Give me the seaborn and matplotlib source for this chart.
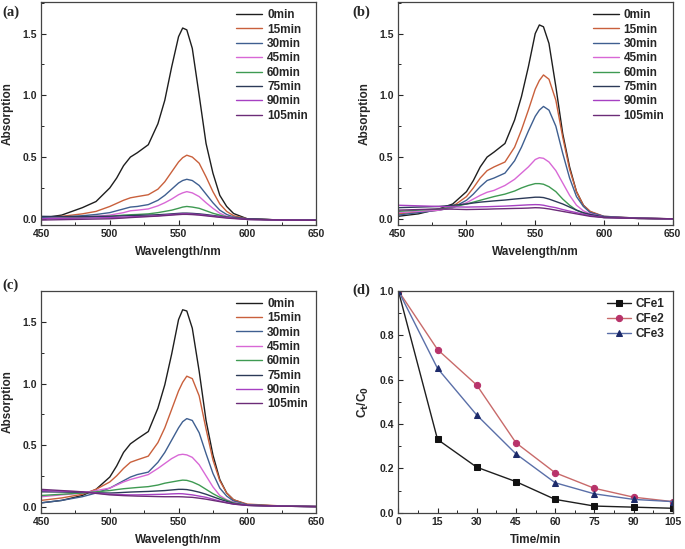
import numpy as np
import pandas as pd
import matplotlib
matplotlib.use("Agg")
import matplotlib.pyplot as plt
from matplotlib.ticker import MultipleLocator
import seaborn as sns

# ---------------- data ----------------
wavelength = [450, 465, 480, 490, 500, 505, 510, 515, 520, 528, 535, 540, 545,
              550, 553, 556, 560, 565, 570, 575, 580, 585, 590, 600, 625, 650]
times = ["0min", "15min", "30min", "45min", "60min", "75min", "90min", "105min"]

a_0 = [0.005, 0.03, 0.09, 0.14, 0.25, 0.33, 0.43, 0.50, 0.535, 0.60, 0.77, 0.96, 1.23,
       1.475, 1.545, 1.53, 1.38, 1.00, 0.61, 0.37, 0.19, 0.10, 0.043, 0.0, -0.01, -0.01]
a_15 = [0.01, 0.02, 0.04, 0.06, 0.10, 0.125, 0.15, 0.17, 0.18, 0.195, 0.24, 0.30, 0.38,
        0.46, 0.495, 0.515, 0.50, 0.45, 0.34, 0.22, 0.12, 0.06, 0.025, 0.0, -0.01, -0.01]
a_30 = [0.01, 0.015, 0.025, 0.035, 0.05, 0.065, 0.08, 0.095, 0.10, 0.115, 0.15, 0.19, 0.24,
        0.29, 0.31, 0.32, 0.31, 0.27, 0.20, 0.13, 0.07, 0.035, 0.015, 0.0, -0.01, -0.01]
a_45 = [0.0, 0.01, 0.015, 0.02, 0.03, 0.04, 0.05, 0.065, 0.07, 0.08, 0.105, 0.13, 0.16,
        0.195, 0.21, 0.22, 0.21, 0.18, 0.13, 0.085, 0.045, 0.02, 0.01, -0.005, -0.01, -0.01]
a_60 = [0.0, 0.005, 0.01, 0.015, 0.02, 0.025, 0.03, 0.033, 0.035, 0.04, 0.05, 0.06, 0.07,
        0.085, 0.095, 0.10, 0.095, 0.085, 0.065, 0.045, 0.03, 0.015, 0.01, -0.005, -0.01, -0.01]
a_75 = [0.02, 0.018, 0.018, 0.02, 0.02, 0.022, 0.024, 0.026, 0.028, 0.03, 0.033, 0.036, 0.04,
        0.044, 0.046, 0.046, 0.044, 0.04, 0.034, 0.027, 0.02, 0.013, 0.008, 0.0, -0.01, -0.01]
a_90 = [0.0, 0.003, 0.006, 0.008, 0.01, 0.012, 0.014, 0.016, 0.018, 0.02, 0.025, 0.03, 0.034,
        0.038, 0.04, 0.04, 0.038, 0.034, 0.028, 0.022, 0.015, 0.01, 0.005, -0.005, -0.01, -0.012]
a_105 = [-0.01, -0.007, -0.004, -0.002, 0.0, 0.003, 0.006, 0.01, 0.013, 0.018, 0.022, 0.026, 0.03,
         0.034, 0.036, 0.036, 0.034, 0.03, 0.024, 0.018, 0.012, 0.006, 0.002, -0.005, -0.01, -0.012]

b_0 = [0.02, 0.04, 0.08, 0.12, 0.22, 0.31, 0.42, 0.50, 0.54, 0.61, 0.80, 0.99, 1.23,
       1.50, 1.57, 1.555, 1.42, 1.07, 0.69, 0.42, 0.22, 0.11, 0.057, 0.016, 0.003, 0.0]
b_15 = [0.04, 0.055, 0.07, 0.10, 0.18, 0.25, 0.33, 0.39, 0.42, 0.46, 0.58, 0.72, 0.88,
        1.05, 1.12, 1.165, 1.13, 0.96, 0.66, 0.40, 0.22, 0.11, 0.06, 0.02, 0.005, 0.0]
b_30 = [0.03, 0.05, 0.07, 0.09, 0.15, 0.20, 0.26, 0.31, 0.33, 0.37, 0.47, 0.58, 0.71,
        0.83, 0.88, 0.91, 0.88, 0.75, 0.53, 0.33, 0.18, 0.10, 0.05, 0.02, 0.005, 0.0]
b_45 = [0.05, 0.06, 0.07, 0.09, 0.13, 0.16, 0.19, 0.215, 0.23, 0.27, 0.32, 0.37, 0.42,
        0.48, 0.495, 0.49, 0.46, 0.39, 0.29, 0.19, 0.11, 0.065, 0.04, 0.015, 0.005, 0.0]
b_60 = [0.06, 0.07, 0.08, 0.095, 0.12, 0.135, 0.15, 0.165, 0.18, 0.20, 0.225, 0.25, 0.27,
        0.285, 0.285, 0.28, 0.26, 0.22, 0.16, 0.11, 0.07, 0.045, 0.03, 0.01, 0.003, 0.0]
b_75 = [0.09, 0.095, 0.10, 0.11, 0.12, 0.128, 0.135, 0.14, 0.145, 0.152, 0.16, 0.165, 0.17,
        0.175, 0.175, 0.172, 0.16, 0.14, 0.12, 0.095, 0.07, 0.05, 0.035, 0.015, 0.005, 0.0]
b_90 = [0.11, 0.105, 0.10, 0.097, 0.095, 0.096, 0.097, 0.098, 0.10, 0.103, 0.107, 0.11, 0.113,
        0.115, 0.114, 0.11, 0.10, 0.09, 0.075, 0.062, 0.05, 0.037, 0.025, 0.01, 0.003, 0.0]
b_105 = [0.07, 0.075, 0.08, 0.078, 0.075, 0.076, 0.077, 0.078, 0.08, 0.082, 0.084, 0.085, 0.087,
         0.09, 0.089, 0.086, 0.08, 0.07, 0.06, 0.05, 0.04, 0.03, 0.02, 0.01, 0.003, 0.0]

c_0 = [0.03, 0.05, 0.09, 0.14, 0.24, 0.33, 0.44, 0.51, 0.55, 0.61, 0.80, 0.99, 1.24,
       1.52, 1.60, 1.59, 1.45, 1.10, 0.70, 0.42, 0.22, 0.11, 0.055, 0.015, 0.003, 0.0]
c_15 = [0.05, 0.07, 0.10, 0.14, 0.20, 0.25, 0.31, 0.36, 0.38, 0.41, 0.52, 0.64, 0.79,
        0.94, 1.01, 1.06, 1.04, 0.90, 0.63, 0.38, 0.21, 0.11, 0.055, 0.02, 0.005, 0.0]
c_30 = [0.03, 0.05, 0.08, 0.11, 0.15, 0.18, 0.21, 0.24, 0.26, 0.28, 0.36, 0.44, 0.54,
        0.64, 0.69, 0.715, 0.70, 0.60, 0.43, 0.27, 0.15, 0.085, 0.045, 0.015, 0.004, 0.0]
c_45 = [0.08, 0.095, 0.11, 0.13, 0.15, 0.175, 0.20, 0.22, 0.235, 0.26, 0.31, 0.35, 0.39,
        0.42, 0.425, 0.42, 0.40, 0.34, 0.25, 0.16, 0.09, 0.055, 0.035, 0.01, 0.003, 0.0]
c_60 = [0.09, 0.10, 0.11, 0.12, 0.13, 0.138, 0.145, 0.15, 0.155, 0.162, 0.175, 0.19, 0.20,
        0.21, 0.215, 0.213, 0.20, 0.175, 0.14, 0.105, 0.075, 0.05, 0.03, 0.01, 0.003, 0.0]
c_75 = [0.12, 0.118, 0.115, 0.112, 0.11, 0.112, 0.115, 0.118, 0.12, 0.123, 0.127, 0.13, 0.135,
        0.14, 0.14, 0.138, 0.13, 0.117, 0.10, 0.08, 0.06, 0.042, 0.025, 0.01, 0.003, 0.0]
c_90 = [0.13, 0.125, 0.12, 0.11, 0.10, 0.098, 0.096, 0.095, 0.095, 0.097, 0.099, 0.10, 0.103,
        0.105, 0.104, 0.10, 0.095, 0.085, 0.075, 0.06, 0.045, 0.032, 0.02, 0.01, 0.003, 0.0]
c_105 = [0.14, 0.13, 0.12, 0.107, 0.095, 0.092, 0.089, 0.087, 0.085, 0.083, 0.081, 0.08, 0.08,
         0.08, 0.079, 0.077, 0.075, 0.068, 0.06, 0.05, 0.04, 0.03, 0.02, 0.01, 0.003, 0.0]

time_min = [0, 15, 30, 45, 60, 75, 90, 105]
cfe1 = [1.0, 0.33, 0.205, 0.14, 0.06, 0.03, 0.025, 0.02]
cfe2 = [1.0, 0.735, 0.575, 0.315, 0.18, 0.11, 0.07, 0.05]
cfe3 = [1.0, 0.65, 0.44, 0.265, 0.135, 0.085, 0.06, 0.05]
samples = ["CFe1", "CFe2", "CFe3"]

# ---------------- style ----------------
sns.set_style("ticks")
plt.rcParams["font.family"] = ["Liberation Sans", "DejaVu Sans"]
plt.rcParams["font.weight"] = "bold"
plt.rcParams["axes.labelweight"] = "bold"
plt.rcParams["xtick.direction"] = "in"
plt.rcParams["ytick.direction"] = "in"
plt.rcParams["axes.linewidth"] = 0.9
plt.rcParams["axes.edgecolor"] = "#444444"

spec_colors = ["#1e1e1e", "#c9603c", "#3f5f90", "#d868d6", "#3e9a52", "#2c3a58", "#a640c2", "#6c2c78"]
palette = dict(zip(times, spec_colors))

fig = plt.figure(figsize=(6.85, 5.49), dpi=100)
W = 0.4015
H = 0.406
positions = {
    "a": [0.0599, 0.5902, W, H],
    "b": [0.5806, 0.5902, W, H],
    "c": [0.0599, 0.0661, W, 0.4044],
    "d": [0.5815, 0.0661, 0.4006, 0.4044],
}

def spectra_panel(key, curves):
    ax = fig.add_axes(positions[key])
    rows = []
    for t, vals in zip(times, curves):
        for w, v in zip(wavelength, vals):
            rows.append({"Wavelength": w, "Absorption": v, "Time": t})
    df = pd.DataFrame(rows)
    sns.lineplot(data=df, x="Wavelength", y="Absorption", hue="Time", hue_order=times,
                 palette=palette, linewidth=1.0, ax=ax, sort=False, estimator=None)
    ax.set_xlim(450, 650)
    ax.set_ylim(-0.05, 1.755)
    ax.xaxis.set_major_locator(MultipleLocator(50))
    ax.xaxis.set_minor_locator(MultipleLocator(25))
    ax.yaxis.set_major_locator(MultipleLocator(0.5))
    ax.yaxis.set_minor_locator(MultipleLocator(0.25))
    ax.tick_params(which="major", length=3.5, width=0.8, labelsize=7.5, pad=3)
    ax.tick_params(which="minor", length=2, width=0.7)
    ax.set_xlabel("Wavelength/nm", fontsize=8.5, fontweight="bold", labelpad=5)
    ax.set_ylabel("Absorption", fontsize=8.5, fontweight="bold", labelpad=6)
    leg = ax.legend(loc="upper right", bbox_to_anchor=(1.0, 1.005), frameon=False,
                    fontsize=8.5, handlelength=2.2, handletextpad=0.4, labelspacing=0.2,
                    borderaxespad=0.3)
    for txt in leg.get_texts():
        txt.set_fontweight("bold")
    for ln in leg.get_lines():
        ln.set_linewidth(1.0)
    return ax

spectra_panel("a", [a_0, a_15, a_30, a_45, a_60, a_75, a_90, a_105])
spectra_panel("b", [b_0, b_15, b_30, b_45, b_60, b_75, b_90, b_105])
spectra_panel("c", [c_0, c_15, c_30, c_45, c_60, c_75, c_90, c_105])

# panel d
axd = fig.add_axes(positions["d"])
rows = []
for s, vals in zip(samples, [cfe1, cfe2, cfe3]):
    for t, v in zip(time_min, vals):
        rows.append({"Time": t, "Ratio": v, "Sample": s})
dfd = pd.DataFrame(rows)
line_cols = {"CFe1": "#1e1e1e", "CFe2": "#c86a6a", "CFe3": "#5a6fa8"}
marker_cols = {"CFe1": "#111111", "CFe2": "#b8336a", "CFe3": "#1c2a6a"}
markers = {"CFe1": "s", "CFe2": "o", "CFe3": "^"}
for s in samples:
    sub = dfd[dfd["Sample"] == s]
    sns.lineplot(data=sub, x="Time", y="Ratio", ax=axd, color=line_cols[s], linewidth=1.0,
                 marker=markers[s], markersize=4.5, markerfacecolor=marker_cols[s],
                 markeredgecolor=marker_cols[s], label=s, estimator=None)
axd.set_xlim(0, 105)
axd.set_ylim(0, 1.0)
axd.xaxis.set_major_locator(MultipleLocator(15))
axd.xaxis.set_minor_locator(MultipleLocator(7.5))
axd.yaxis.set_major_locator(MultipleLocator(0.2))
axd.yaxis.set_minor_locator(MultipleLocator(0.1))
axd.tick_params(which="major", length=3.5, width=0.8, labelsize=7.5, pad=3)
axd.tick_params(which="minor", length=2, width=0.7)
axd.set_xlabel("Time/min", fontsize=8.5, fontweight="bold", labelpad=5)
axd.set_ylabel(r"C$_\mathbf{t}$/C$_\mathbf{0}$", fontsize=8.5, fontweight="bold", labelpad=6)
legd = axd.legend(loc="upper right", bbox_to_anchor=(1.0, 1.005), frameon=False, fontsize=8.5,
                  handlelength=2.0, handletextpad=0.4, labelspacing=0.25, borderaxespad=0.3)
for txt in legd.get_texts():
    txt.set_fontweight("bold")

# panel labels
lab_kw = dict(fontsize=10.5, fontweight="bold", family=["Liberation Serif", "DejaVu Serif"],
              va="center", ha="left")
fig.text(0.004, 0.978, "(a)", **lab_kw)
fig.text(0.515, 0.978, "(b)", **lab_kw)
fig.text(0.004, 0.481, "(c)", **lab_kw)
fig.text(0.515, 0.472, "(d)", **lab_kw)

fig.savefig("out.png", dpi=100)
